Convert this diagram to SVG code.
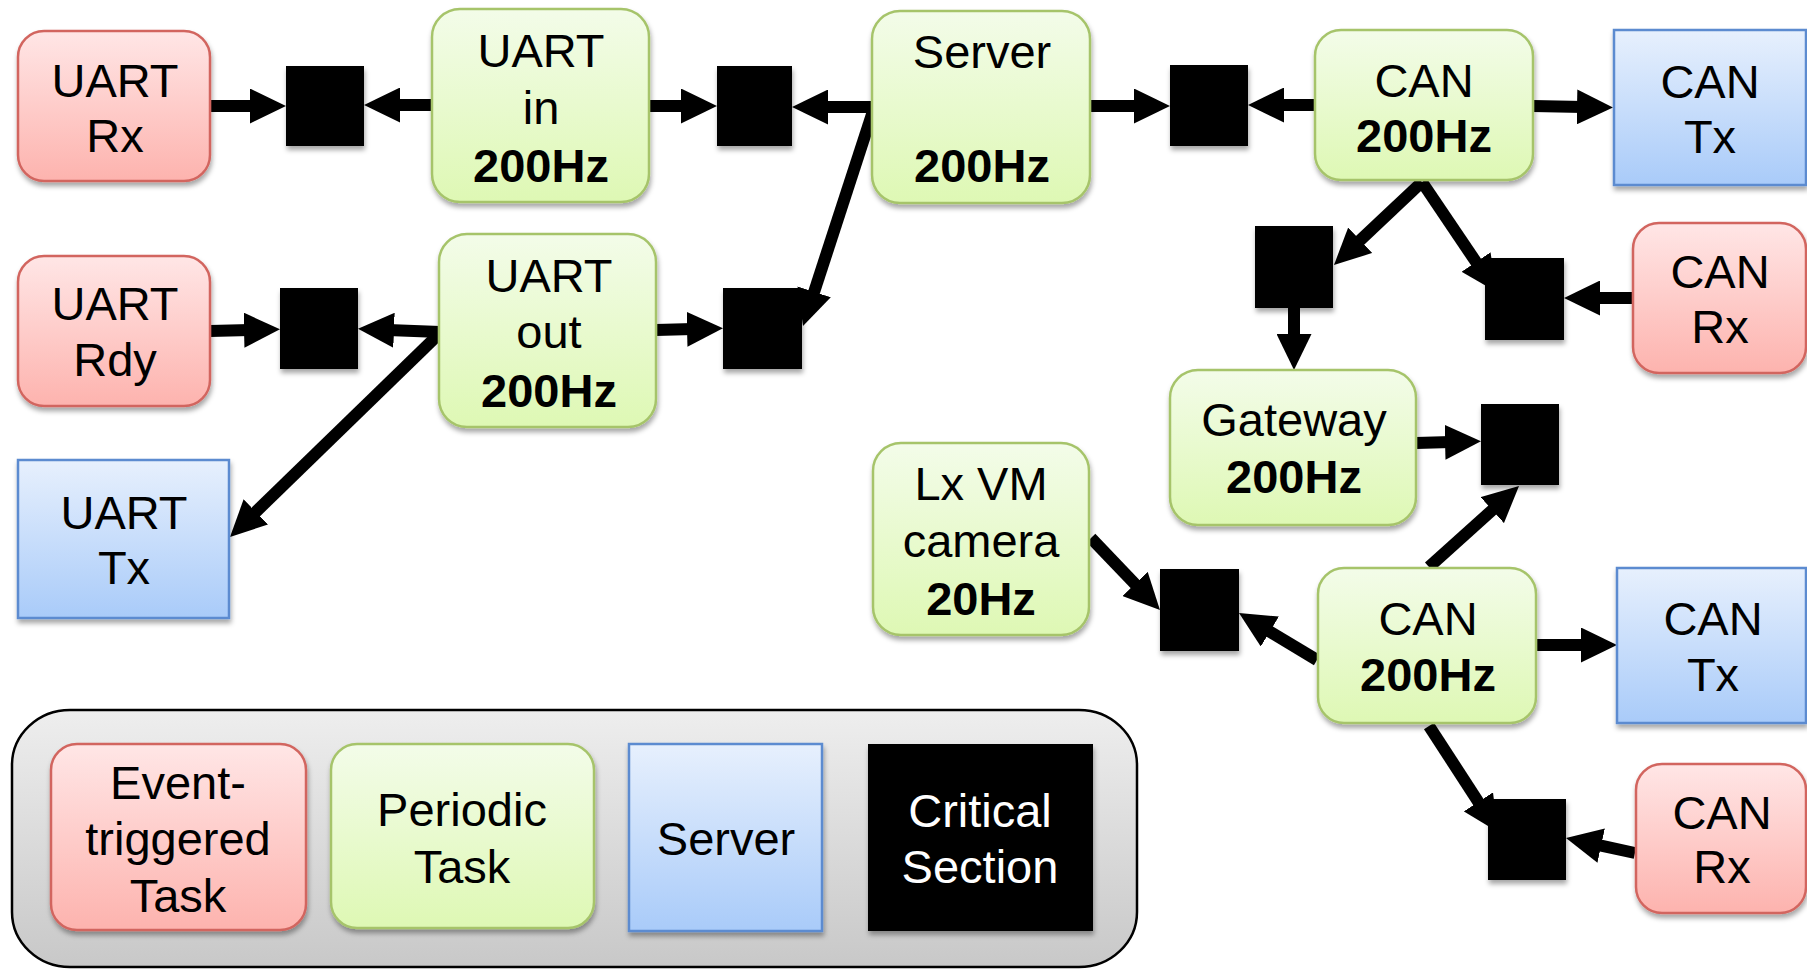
<svg xmlns="http://www.w3.org/2000/svg" width="1807" height="969" viewBox="0 0 1807 969">
<defs>
<linearGradient id="gRed" x1="0" y1="0" x2="0" y2="1"><stop offset="0" stop-color="#ffe6e6"/><stop offset="1" stop-color="#fdb3ae"/></linearGradient>
<linearGradient id="gGreen" x1="0" y1="0" x2="0" y2="1"><stop offset="0" stop-color="#f3fce9"/><stop offset="1" stop-color="#def8b4"/></linearGradient>
<linearGradient id="gBlue" x1="0" y1="0" x2="0" y2="1"><stop offset="0" stop-color="#e7f0fd"/><stop offset="1" stop-color="#a9cbf9"/></linearGradient>
<linearGradient id="gGray" x1="0" y1="0" x2="0" y2="1"><stop offset="0" stop-color="#eeeeee"/><stop offset="1" stop-color="#c8c8c8"/></linearGradient>
<filter id="sh" x="-10%" y="-10%" width="130%" height="130%"><feDropShadow dx="1" dy="4" stdDeviation="2.5" flood-color="#000" flood-opacity="0.35"/></filter>
<marker id="ah" markerUnits="userSpaceOnUse" markerWidth="36" markerHeight="35" refX="6" refY="17.5" orient="auto"><path d="M0,0 L36,17.5 L0,35 z" fill="#000"/></marker>
<style>
.red{fill:url(#gRed);stroke:#d2655f;stroke-width:2.5;filter:url(#sh)}
.green{fill:url(#gGreen);stroke:#a6c46b;stroke-width:2.5;filter:url(#sh)}
.blue{fill:url(#gBlue);stroke:#5b8bd0;stroke-width:2.5;filter:url(#sh)}
.cs{fill:#000;filter:url(#sh)}
.t{font-family:"Liberation Sans",Arial,sans-serif;font-size:47px;fill:#000;text-anchor:middle}
.b{font-weight:bold}
.w{fill:#fff}
.c{fill:none;stroke:#000;stroke-width:12;marker-end:url(#ah)}
</style>
</defs>
<rect width="1807" height="969" fill="#fff"/>

<g id="legend">
<rect x="12" y="710" width="1125" height="257" rx="58" ry="55" fill="url(#gGray)" stroke="#000" stroke-width="2.5"/>
<g id="leg-event"><rect class="red" x="51" y="744" width="255" height="186" rx="26"/>
<text class="t" x="178" y="799">Event-</text><text class="t" x="178" y="855">triggered</text><text class="t" x="178" y="912">Task</text></g>
<g id="leg-periodic"><rect class="green" x="331" y="744" width="263" height="184" rx="26"/>
<text class="t" x="462" y="826">Periodic</text><text class="t" x="462" y="883">Task</text></g>
<g id="leg-server"><rect class="blue" x="629" y="744" width="193" height="187"/>
<text class="t" x="726" y="855">Server</text></g>
<g id="leg-cs"><rect class="cs" x="868" y="744" width="225" height="187"/>
<text class="t w" x="980" y="827">Critical</text><text class="t w" x="980" y="883">Section</text></g>
</g>

<g id="connectors">
<line class="c" x1="210" y1="106" x2="256" y2="106"/>
<line class="c" x1="432" y1="105" x2="394" y2="105"/>
<line class="c" x1="649" y1="106" x2="687" y2="106"/>
<line class="c" x1="872" y1="107" x2="822" y2="107"/>
<line class="c" x1="874" y1="108" x2="812.3" y2="297.5"/>
<line class="c" x1="656" y1="330" x2="693" y2="329"/>
<line class="c" x1="210" y1="331" x2="250" y2="330"/>
<line class="c" x1="440" y1="332" x2="388" y2="330"/>
<line class="c" x1="440" y1="333" x2="251.5" y2="516.1"/>
<line class="c" x1="1090" y1="106" x2="1140" y2="106"/>
<line class="c" x1="1315" y1="105" x2="1278" y2="105"/>
<line class="c" x1="1533" y1="106" x2="1583" y2="107"/>
<line class="c" x1="1422" y1="182" x2="1355.8" y2="244.4"/>
<line class="c" x1="1422" y1="182" x2="1479.4" y2="267"/>
<line class="c" x1="1294" y1="308" x2="1294" y2="340"/>
<line class="c" x1="1416" y1="443" x2="1451" y2="442"/>
<line class="c" x1="1429" y1="567" x2="1496.7" y2="506.1"/>
<line class="c" x1="1091" y1="538" x2="1139.2" y2="588.3"/>
<line class="c" x1="1317" y1="660" x2="1264.7" y2="628.5"/>
<line class="c" x1="1536" y1="645" x2="1587" y2="645"/>
<line class="c" x1="1429" y1="726" x2="1481.6" y2="806.9"/>
<line class="c" x1="1635" y1="853" x2="1595.3" y2="844.4"/>
<line class="c" x1="1633" y1="298" x2="1594" y2="298"/>
</g>

<g id="uart-rx"><rect class="red" x="18" y="31" width="192" height="150" rx="26"/>
<text class="t" x="115" y="97">UART</text><text class="t" x="115" y="152">Rx</text></g>
<g id="uart-in"><rect class="green" x="432" y="9" width="217" height="193" rx="28"/>
<text class="t" x="541" y="67">UART</text><text class="t" x="541" y="124">in</text><text class="t b" x="541" y="182">200Hz</text></g>
<g id="server"><rect class="green" x="872" y="11" width="218" height="192" rx="28"/>
<text class="t" x="982" y="68">Server</text><text class="t b" x="982" y="182">200Hz</text></g>
<g id="can-top"><rect class="green" x="1315" y="30" width="218" height="150" rx="26"/>
<text class="t" x="1424" y="97">CAN</text><text class="t b" x="1424" y="152">200Hz</text></g>
<g id="can-tx-top"><rect class="blue" x="1614" y="30" width="192" height="155"/>
<text class="t" x="1710" y="98">CAN</text><text class="t" x="1710" y="153">Tx</text></g>
<g id="uart-rdy"><rect class="red" x="18" y="256" width="192" height="150" rx="26"/>
<text class="t" x="115" y="320">UART</text><text class="t" x="115" y="376">Rdy</text></g>
<g id="uart-out"><rect class="green" x="439" y="234" width="217" height="193" rx="28"/>
<text class="t" x="549" y="292">UART</text><text class="t" x="549" y="348">out</text><text class="t b" x="549" y="407">200Hz</text></g>
<g id="uart-tx"><rect class="blue" x="18" y="460" width="211" height="158"/>
<text class="t" x="124" y="529">UART</text><text class="t" x="124" y="584">Tx</text></g>
<g id="can-rx-top"><rect class="red" x="1633" y="223" width="173" height="150" rx="26"/>
<text class="t" x="1720" y="288">CAN</text><text class="t" x="1720" y="343">Rx</text></g>
<g id="gateway"><rect class="green" x="1170" y="370" width="246" height="155" rx="28"/>
<text class="t" x="1294" y="436">Gateway</text><text class="t b" x="1294" y="493">200Hz</text></g>
<g id="lxvm"><rect class="green" x="873" y="443" width="216" height="192" rx="28"/>
<text class="t" x="981" y="500">Lx VM</text><text class="t" x="981" y="557">camera</text><text class="t b" x="981" y="615">20Hz</text></g>
<g id="can-bottom"><rect class="green" x="1318" y="568" width="218" height="155" rx="26"/>
<text class="t" x="1428" y="635">CAN</text><text class="t b" x="1428" y="691">200Hz</text></g>
<g id="can-tx-bottom"><rect class="blue" x="1617" y="568" width="189" height="155"/>
<text class="t" x="1713" y="635">CAN</text><text class="t" x="1713" y="691">Tx</text></g>
<g id="can-rx-bottom"><rect class="red" x="1636" y="764" width="170" height="149" rx="26"/>
<text class="t" x="1722" y="829">CAN</text><text class="t" x="1722" y="883">Rx</text></g>

<g id="cs1"><rect class="cs" x="286" y="66" width="78" height="80"/></g>
<g id="cs2"><rect class="cs" x="717" y="66" width="75" height="80"/></g>
<g id="cs3"><rect class="cs" x="1170" y="65" width="78" height="81"/></g>
<g id="cs4"><rect class="cs" x="280" y="288" width="78" height="81"/></g>
<g id="cs5"><rect class="cs" x="723" y="288" width="79" height="81"/></g>
<g id="cs6"><rect class="cs" x="1255" y="226" width="78" height="82"/></g>
<g id="cs7"><rect class="cs" x="1485" y="258" width="79" height="82"/></g>
<g id="cs8"><rect class="cs" x="1481" y="404" width="78" height="81"/></g>
<g id="cs9"><rect class="cs" x="1160" y="569" width="79" height="82"/></g>
<g id="cs10"><rect class="cs" x="1488" y="799" width="78" height="81"/></g>
</svg>
